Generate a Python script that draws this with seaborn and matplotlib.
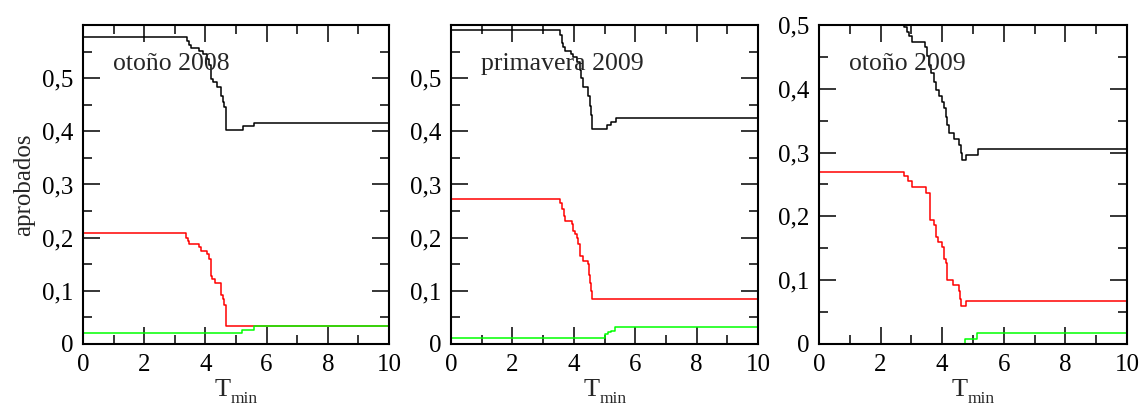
import matplotlib
matplotlib.use("Agg")
import matplotlib.pyplot as plt
from matplotlib.ticker import MultipleLocator, FuncFormatter
import seaborn as sns
import pandas as pd

# ---------------- data ----------------
panel_titles = ["otoño 2008", "primavera 2009", "otoño 2009"]

# panel 1: otoño 2008
t_black1 = [0, 3.40, 3.45, 3.52, 3.80, 3.92, 4.05, 4.12, 4.18, 4.25, 4.38, 4.52, 4.56, 4.62, 4.68, 5.22, 5.60, 10]
v_black1 = [0.578, 0.570, 0.562, 0.557, 0.551, 0.545, 0.536, 0.525, 0.498, 0.492, 0.484, 0.466, 0.455, 0.445, 0.403, 0.410, 0.416, 0.416]
t_red1 = [0, 3.38, 3.42, 3.46, 3.78, 3.84, 4.06, 4.12, 4.18, 4.22, 4.32, 4.52, 4.57, 4.62, 4.66, 10]
v_red1 = [0.208, 0.200, 0.193, 0.188, 0.182, 0.175, 0.169, 0.160, 0.128, 0.122, 0.114, 0.092, 0.085, 0.074, 0.033, 0.033]
t_green1 = [0, 5.20, 5.60, 10]
v_green1 = [0.020, 0.027, 0.033, 0.033]

# panel 2: primavera 2009
t_black2 = [0, 3.56, 3.60, 3.65, 3.70, 3.92, 3.98, 4.10, 4.20, 4.25, 4.30, 4.47, 4.52, 4.56, 4.60, 5.07, 5.21, 5.36, 10]
v_black2 = [0.591, 0.582, 0.566, 0.558, 0.551, 0.545, 0.539, 0.530, 0.515, 0.500, 0.484, 0.467, 0.447, 0.430, 0.405, 0.411, 0.418, 0.425, 0.425]
t_red2 = [0, 3.55, 3.62, 3.67, 3.72, 3.93, 3.98, 4.04, 4.10, 4.15, 4.20, 4.30, 4.45, 4.50, 4.53, 4.56, 4.60, 10]
v_red2 = [0.272, 0.265, 0.253, 0.240, 0.232, 0.225, 0.212, 0.207, 0.200, 0.188, 0.166, 0.157, 0.150, 0.130, 0.114, 0.099, 0.085, 0.085]
t_green2 = [0, 5.02, 5.12, 5.22, 5.34, 10]
v_green2 = [0.012, 0.019, 0.022, 0.025, 0.0315, 0.0315]

# panel 3: otoño 2009
t_black3 = [0, 2.76, 2.85, 2.93, 3.01, 3.45, 3.52, 3.58, 3.64, 3.72, 3.80, 3.89, 4.00, 4.05, 4.11, 4.16, 4.22, 4.37, 4.54, 4.60, 4.63, 4.77, 5.17, 10]
v_black3 = [0.53, 0.497, 0.489, 0.482, 0.474, 0.466, 0.452, 0.438, 0.424, 0.411, 0.398, 0.388, 0.380, 0.370, 0.356, 0.343, 0.330, 0.322, 0.312, 0.299, 0.288, 0.296, 0.305, 0.305]
t_red3 = [0, 2.76, 2.90, 3.01, 3.46, 3.60, 3.62, 3.73, 3.80, 3.87, 3.98, 4.07, 4.11, 4.17, 4.34, 4.55, 4.59, 4.62, 4.77, 10]
v_red3 = [0.270, 0.263, 0.255, 0.246, 0.236, 0.221, 0.194, 0.187, 0.168, 0.160, 0.152, 0.134, 0.127, 0.101, 0.092, 0.083, 0.070, 0.059, 0.067, 0.067]
t_green3 = [0, 4.75, 5.14, 10]
v_green3 = [0.0, 0.008, 0.017, 0.017]

x_ticks = [0, 2, 4, 6, 8, 10]
y_ticks = [0, 0.1, 0.2, 0.3, 0.4, 0.5]
y_tops = [0.6, 0.6, 0.5]

panels = [
    [(t_black1, v_black1), (t_red1, v_red1), (t_green1, v_green1)],
    [(t_black2, v_black2), (t_red2, v_red2), (t_green2, v_green2)],
    [(t_black3, v_black3), (t_red3, v_red3), (t_green3, v_green3)],
]
colors = ["#000000", "#ff0000", "#00ff00"]

# ---------------- style ----------------
sns.set_style("ticks")
plt.rcParams["font.family"] = ["Liberation Serif", "DejaVu Serif"]

fig = plt.figure(figsize=(11.45, 4.07), dpi=100)
lefts = [83 / 1145, 451 / 1145, 819 / 1145]
widths = [306 / 1145, 307 / 1145, 308 / 1145]
bottom = 63 / 407
height = 319 / 407

def fmt(v, pos):
    if abs(v) < 1e-9:
        return "0"
    return ("%.1f" % v).replace(".", ",")

for i in range(3):
    ax = fig.add_axes([lefts[i], bottom, widths[i], height])
    for (t, v), c in zip(panels[i], colors):
        df = pd.DataFrame({"T": t, "v": v})
        sns.lineplot(data=df, x="T", y="v", ax=ax, color=c, lw=1.1,
                     drawstyle="steps-post", estimator=None, sort=False)
    ax.set_xlim(0, 10)
    ax.set_ylim(0, y_tops[i])
    ax.set_xticks(x_ticks)
    ax.set_yticks(y_ticks)
    ax.xaxis.set_minor_locator(MultipleLocator(1))
    ax.yaxis.set_minor_locator(MultipleLocator(0.05))
    ax.yaxis.set_major_formatter(FuncFormatter(fmt))
    ax.tick_params(which="both", direction="in", top=True, right=True,
                   width=1.1, colors="black", labelsize=18)
    ax.tick_params(which="major", length=12.5)
    ax.tick_params(which="minor", length=6.5)
    ax.tick_params(axis="y", pad=7)
    ax.tick_params(axis="x", pad=7)
    for s in ax.spines.values():
        s.set_linewidth(1.5)
        s.set_color("black")
    ax.set_xlabel("")
    # x label "T" with subscript "min"
    ax.text(0.431, -0.164, "T", transform=ax.transAxes, fontsize=19,
            ha="left", va="baseline")
    ax.text(0.484, -0.186, "min", transform=ax.transAxes, fontsize=12.5,
            ha="left", va="baseline")
    if i == 0:
        ax.set_ylabel("aprobados", fontsize=18, labelpad=5)
    else:
        ax.set_ylabel("")
    ax.text(0.097, 0.859, panel_titles[i], transform=ax.transAxes,
            fontsize=18.5, ha="left", va="baseline")

fig.savefig("out.png", dpi=100)
